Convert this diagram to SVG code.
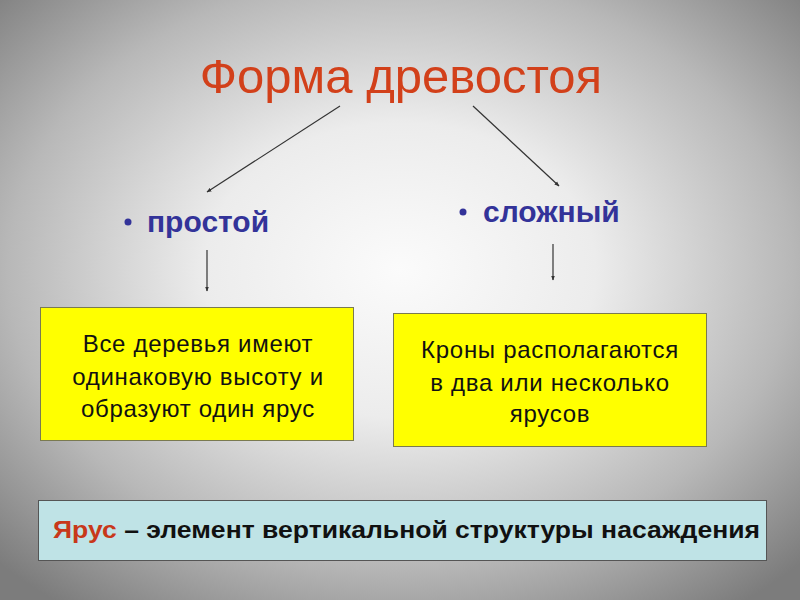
<svg xmlns="http://www.w3.org/2000/svg" width="800" height="600" viewBox="0 0 800 600">
<defs>
<radialGradient id="bg" cx="50%" cy="45%" r="70%" gradientUnits="objectBoundingBox">
<stop offset="0" stop-color="#fbfbfb"/>
<stop offset="0.35" stop-color="#ececec"/>
<stop offset="0.7" stop-color="#b8b8b8"/>
<stop offset="1" stop-color="#7c7c7c"/>
</radialGradient>
<marker id="ah" viewBox="0 0 10 10" refX="9" refY="5" markerWidth="5" markerHeight="5" orient="auto" markerUnits="userSpaceOnUse">
<path d="M0,1 L10,5 L0,9 z" fill="#333"/>
</marker>
</defs>
<style>
.t{font-family:"Liberation Sans",Arial,sans-serif}
.title{font-size:49px;fill:#d2401a}
.bul{font-size:30px;font-weight:bold;fill:#333399}
.box{fill:#ffff00;stroke:#7a7a50;stroke-width:1}
.bt{font-size:24px;fill:#111;text-anchor:middle;letter-spacing:0.7px}
.con line{stroke:#333;stroke-width:1.2;marker-end:url(#ah)}
</style>
<rect width="800" height="600" fill="url(#bg)"/>
<g id="title"><text class="t title" x="401" y="93" text-anchor="middle">Форма древостоя</text></g>
<g class="con" id="connectors">
<line x1="340" y1="106" x2="207" y2="192"/>
<line x1="473" y1="106" x2="559" y2="186"/>
<line x1="207" y1="250" x2="207" y2="291"/>
<line x1="553" y1="244" x2="553" y2="280"/>
</g>
<g id="simple"><circle cx="128" cy="222" r="3.5" fill="#333399"/><text class="t bul" x="147" y="232">простой</text></g>
<g id="complex"><circle cx="463" cy="212" r="3.5" fill="#333399"/><text class="t bul" x="483" y="222">сложный</text></g>
<g id="box1"><rect class="box" x="40.5" y="307.5" width="313" height="133"/>
<text class="t bt" x="198" y="352">Все деревья имеют</text>
<text class="t bt" x="198" y="385">одинаковую высоту и</text>
<text class="t bt" x="198" y="417">образуют один ярус</text></g>
<g id="box2"><rect class="box" x="393.5" y="313.5" width="313" height="133"/>
<text class="t bt" x="550" y="358">Кроны располагаются</text>
<text class="t bt" x="550" y="391">в два или несколько</text>
<text class="t bt" x="550" y="422">ярусов</text></g>
<g id="definition"><rect x="38.5" y="500.5" width="728" height="60" fill="#bfe3e6" stroke="#555" stroke-width="1"/>
<text class="t" x="53" y="538" font-size="24" font-weight="bold" fill="#111" textLength="707" lengthAdjust="spacingAndGlyphs"><tspan fill="#c8381a">Ярус</tspan> – элемент вертикальной структуры насаждения</text></g>
</svg>
